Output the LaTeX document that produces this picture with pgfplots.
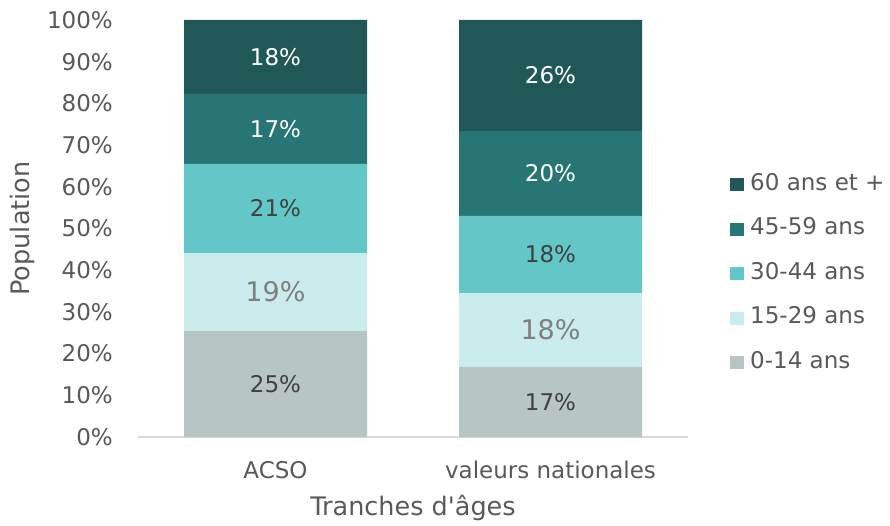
\documentclass[border=0pt]{standalone}
\usepackage{pgfplots}
\usepackage{pgfplotstable}
\pgfplotsset{compat=1.18}
\usepackage{fontspec}
\setmainfont{DejaVu Sans}
\definecolor{c1}{HTML}{B7C5C4}
\definecolor{c2}{HTML}{CBECEC}
\definecolor{c3}{HTML}{63C7C7}
\definecolor{c4}{HTML}{277575}
\definecolor{c5}{HTML}{1F5857}
\definecolor{txt}{HTML}{595959}
\definecolor{lbl}{HTML}{404040}
\definecolor{lblg}{HTML}{7F7F7F}

% stacked shares (%), x: 0 = ACSO, 1 = valeurs nationales
\pgfplotstableread{
x v1 v2 v3 v4 v5
0 25.4 18.7 21.4 16.8 17.7
1 16.8 17.7 18.5 20.4 26.6
}\bars
% label positions (segment middles) and printed values
\pgfplotstableread{
x y m
0 12.7 25
1 8.4 17
}\lA
\pgfplotstableread{
x y m
0 34.75 19
1 25.65 18
}\lB
\pgfplotstableread{
x y m
0 54.8 21
1 43.75 18
}\lC
\pgfplotstableread{
x y m
0 73.9 17
1 63.2 20
}\lD
\pgfplotstableread{
x y m
0 91.15 18
1 86.7 26
}\lE

\begin{document}
\begin{tikzpicture}[x=1pt,y=1pt]
\useasboundingbox (0,0) rectangle (890,525);
\pgfplotsset{
  base/.style={
    at={(138pt,88pt)}, anchor=south west,
    scale only axis, width=550pt, height=417pt,
    xmin=-0.5, xmax=1.5, ymin=0, ymax=100,
    /pgf/number format/assume math mode=true,
  },
  lab/.style={only marks, mark=none, point meta=explicit,
    nodes near coords={\pgfmathprintnumber[assume math mode=true]{\pgfplotspointmeta}\%},
    every node near coord/.style={anchor=center, inner sep=0pt, #1}},
}
\begin{axis}[base,
  ybar stacked, bar width=183pt,
  font=\fontsize{23}{27}\selectfont,
  axis lines*=left, axis line style={-},
  y axis line style={draw=none},
  x axis line style={draw=black!15, line width=1.5pt},
  tick style={draw=none},
  xtick={0,1}, xticklabels={ACSO, valeurs nationales},
  ytick={0,10,...,100},
  yticklabel={\pgfmathprintnumber{\tick}\%},
  ticklabel style={text=txt, inner sep=0pt},
  yticklabel style={anchor=east, xshift=-25pt},
  xticklabel style={anchor=center, yshift=-33pt},
  xlabel={Tranches d\textquotesingle âges}, ylabel={Population},
  every axis x label/.style={at={(axis description cs:0.5,0)}, anchor=center, yshift=-71pt, font=\fontsize{25.5}{30}\selectfont, text=txt},
  every axis y label/.style={at={(axis description cs:0,0.5)}, rotate=90, anchor=center, yshift=116pt, font=\fontsize{25.5}{30}\selectfont, text=txt},
  reverse legend,
  legend style={at={(rel axis cs:1.0764,0.63)}, anchor=north west, draw=none, fill=none,
    inner sep=0pt, row sep=23.5pt,
    nodes={anchor=west, inner sep=0pt, text height=16pt, text depth=5pt, text=txt, font=\fontsize{23}{27}\selectfont}},
  legend image code/.code={\fill[#1, draw=none] (0pt,-6.5pt) rectangle (14pt,6.5pt); \path (20pt,0pt);},
]
\addplot[fill=c1, draw=none] table[x=x, y=v1] {\bars};
\addlegendentry{0-14 ans}
\addplot[fill=c2, draw=none] table[x=x, y=v2] {\bars};
\addlegendentry{15-29 ans}
\addplot[fill=c3, draw=none] table[x=x, y=v3] {\bars};
\addlegendentry{30-44 ans}
\addplot[fill=c4, draw=none] table[x=x, y=v4] {\bars};
\addlegendentry{45-59 ans}
\addplot[fill=c5, draw=none] table[x=x, y=v5] {\bars};
\addlegendentry{60 ans et +}
\end{axis}
\begin{axis}[base, hide axis]
\addplot[lab={text=lbl, font=\fontsize{23}{27}\selectfont}] table[x=x, y=y, meta=m] {\lA};
\addplot[lab={text=lblg, font=\fontsize{27}{31}\selectfont}] table[x=x, y=y, meta=m] {\lB};
\addplot[lab={text=lbl, font=\fontsize{23}{27}\selectfont}] table[x=x, y=y, meta=m] {\lC};
\addplot[lab={text=white, font=\fontsize{23}{27}\selectfont}] table[x=x, y=y, meta=m] {\lD};
\addplot[lab={text=white, font=\fontsize{23}{27}\selectfont}] table[x=x, y=y, meta=m] {\lE};
\end{axis}
\end{tikzpicture}
\end{document}
